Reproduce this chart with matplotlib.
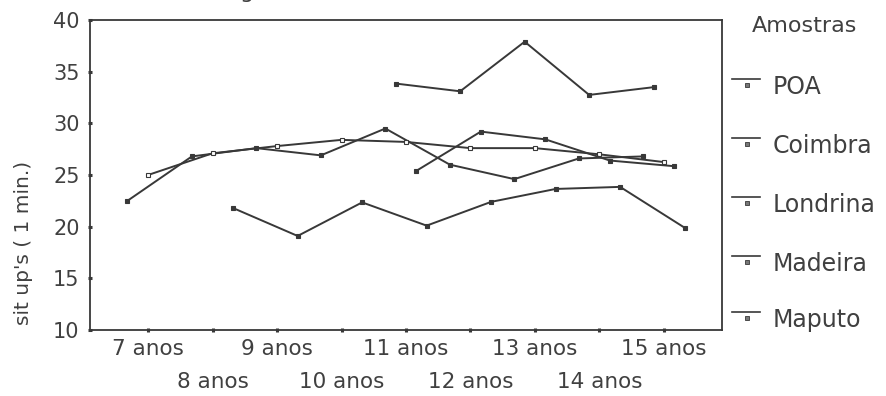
import matplotlib
matplotlib.use('Agg')
import matplotlib.pyplot as plt
import numpy as np

plt.rcParams['font.family'] = ['DejaVu Sans']

# idades (categorias do eixo x)
idades = ['7 anos', '8 anos', '9 anos', '10 anos', '11 anos', '12 anos', '13 anos', '14 anos', '15 anos']
nan = np.nan
# sit up's em 1 minuto, por amostra
poa = [22.5, 26.8, 27.6, 26.9, 29.5, 26.0, 24.6, 26.6, 26.8]
coimbra = [nan, nan, nan, nan, 33.85, 33.1, 37.9, 32.75, 33.5]
londrina = [25.0, 27.1, 27.8, 28.4, 28.2, 27.6, 27.6, 27.0, 26.25]
madeira = [nan, nan, nan, nan, 25.4, 29.2, 28.45, 26.4, 25.85]
maputo = [nan, 21.8, 19.1, 22.35, 20.1, 22.4, 23.65, 23.85, 19.9]
amostras = ['POA', 'Coimbra', 'Londrina', 'Madeira', 'Maputo']
series = [poa, coimbra, londrina, madeira, maputo]
yticks = [10, 15, 20, 25, 30, 35, 40]

INK = '#383838'
TXT = '#404040'

fig = plt.figure(figsize=(8.87, 3.96), dpi=100)
ax = fig.add_axes([90 / 887, 1 - 330 / 396, 632 / 887, 310 / 396])

x = np.arange(len(idades))
step = 0.16
for i, (name, vals) in enumerate(zip(amostras, series)):
    xs = x + (i - 2) * step
    face = 'white' if name == 'Londrina' else INK
    ax.plot(xs, vals, color=INK, linewidth=1.4, marker='s', markersize=3.4,
            markerfacecolor=face, markeredgecolor=INK, markeredgewidth=0.8)

ax.set_xlim(-0.9, len(idades) - 1 + 0.9)
ax.set_ylim(10, 40)
ax.set_yticks(yticks)
ax.set_yticklabels([str(v) for v in yticks], fontsize=15, color=TXT)
# idades ímpares na primeira linha, pares na segunda
ax.set_xticks(x[::2])
ax.set_xticklabels(idades[::2], fontsize=15.5, color=TXT)
ax.set_xticks(x[1::2], minor=True)
ax.set_xticklabels(idades[1::2], minor=True, fontsize=15.5, color=TXT)
ax.tick_params(axis='both', which='both', direction='inout', length=3, width=2.2, color=INK)
ax.tick_params(axis='y', pad=6)
ax.tick_params(axis='x', which='major', pad=5)
ax.tick_params(axis='x', which='minor', pad=29)
for s in ax.spines.values():
    s.set_color(INK)
    s.set_linewidth(1.3)

fig.text(24 / 887, 1 - 243 / 396, "sit up's ( 1 min.)", rotation=90, fontsize=14.5,
         color=TXT, ha='center', va='center')

# legenda desenhada à mão (linha com marcador abaixo)
fig.text(805 / 887, 1 - 26 / 396, 'Amostras', fontsize=16, color=TXT, ha='center', va='center')
leg_y = [87, 146, 205, 264, 320]
for name, yy in zip(amostras, leg_y):
    fy = 1 - (yy - 8) / 396
    fig.add_artist(plt.Line2D([732 / 887, 760 / 887], [fy, fy], color=INK, linewidth=1.2))
    fig.add_artist(plt.Line2D([747 / 887], [1 - (yy - 2) / 396], marker='s', markersize=3,
                              markerfacecolor='#777777', markeredgecolor=INK, markeredgewidth=0.6))
    fig.text(773 / 887, 1 - yy / 396, name, fontsize=17, color=TXT, ha='left', va='center')

# resto do título cortado no topo
fig.text(247 / 887, 1 + 2 / 396, 'g', fontsize=16, color=TXT, ha='center', va='baseline')

fig.savefig('out.png', dpi=100)
